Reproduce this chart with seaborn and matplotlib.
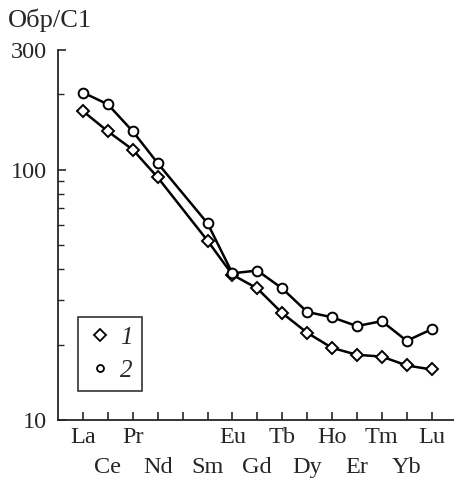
import numpy as np
import pandas as pd
import matplotlib
matplotlib.use("Agg")
import matplotlib.pyplot as plt
import seaborn as sns
from matplotlib.lines import Line2D
from matplotlib.ticker import FixedLocator, NullFormatter

# --- data ---
ree_axis = ['La', 'Ce', 'Pr', 'Nd', 'Pm', 'Sm', 'Eu', 'Gd', 'Tb', 'Dy', 'Ho', 'Er', 'Tm', 'Yb', 'Lu']
elements = ['La', 'Ce', 'Pr', 'Nd', 'Sm', 'Eu', 'Gd', 'Tb', 'Dy', 'Ho', 'Er', 'Tm', 'Yb', 'Lu']
sample1 = [171, 142, 120, 93, 52, 38, 33.5, 26.7, 22.3, 19.4, 18.2, 17.9, 16.5, 15.9]
sample2 = [203, 182, 142, 106, 61, 38.5, 39.5, 33.5, 27.0, 25.7, 23.7, 24.8, 20.7, 23.0]
legend_labels = ['1', '2']
top_row = ['La', 'Pr', 'Pm', 'Eu', 'Tb', 'Ho', 'Tm', 'Lu']
bottom_row = ['Ce', 'Nd', 'Sm', 'Gd', 'Dy', 'Er', 'Yb']

df = pd.DataFrame({
    'el': elements * 2,
    'val': sample1 + sample2,
    'grp': ['1'] * len(elements) + ['2'] * len(elements),
})
pos = {e: i for i, e in enumerate(ree_axis)}
df['pos'] = df['el'].map(pos)

sns.set_style("ticks")
plt.rcParams['font.family'] = ['Liberation Serif', 'DejaVu Serif']
plt.rcParams['font.size'] = 17.5

fig = plt.figure(figsize=(4.54, 4.86), dpi=100)
ax = fig.add_axes([0.128, 0.136, 0.872, 0.761])

sns.lineplot(data=df[df.grp == '1'], x='pos', y='val', ax=ax, color='black', lw=1.8,
             marker='D', markersize=6.5, markerfacecolor='white', markeredgecolor='black',
             markeredgewidth=1.4, legend=False)
sns.lineplot(data=df[df.grp == '2'], x='pos', y='val', ax=ax, color='black', lw=1.8,
             marker='o', markersize=7, markerfacecolor='white', markeredgecolor='black',
             markeredgewidth=1.4, legend=False)

ax.set_yscale('log')
ax.set_ylim(10, 300)
ax.set_xlim(-1, 14.9)
ax.yaxis.set_major_locator(FixedLocator([10, 100, 300]))
ax.set_yticklabels(['10', '100', '300'])
ax.yaxis.set_minor_locator(FixedLocator([20, 30, 40, 50, 60, 70, 80, 90, 200]))
ax.yaxis.set_minor_formatter(NullFormatter())

# two staggered rows of element labels
ax.set_xticks([pos[e] for e in top_row])
ax.set_xticklabels(['' if e == 'Pm' else e for e in top_row])
ax.set_xticks([pos[e] for e in bottom_row], minor=True)
ax.set_xticklabels(bottom_row, minor=True)

ax.tick_params(axis='both', which='both', direction='in', width=1.2)
ax.tick_params(axis='both', which='major', length=6)
ax.tick_params(axis='y', which='major', pad=8)
ax.tick_params(axis='y', which='minor', length=4, width=1.0)
ax.tick_params(axis='x', which='major', pad=5)
ax.tick_params(axis='x', which='minor', length=6, pad=27)
for s in ['top', 'right']:
    ax.spines[s].set_visible(False)
for s in ['left', 'bottom']:
    ax.spines[s].set_linewidth(1.3)
ax.set_xlabel('')
ax.set_ylabel('')

handles = [
    Line2D([], [], ls='none', marker='D', markersize=6, mfc='white', mec='black', mew=1.3),
    Line2D([], [], ls='none', marker='o', markersize=5, mfc='white', mec='black', mew=1.3),
]
leg = ax.legend(handles, legend_labels, loc='lower left', bbox_to_anchor=(0.05, 0.078),
                borderaxespad=0, frameon=True, fancybox=False, edgecolor='black',
                handlelength=1.0, handletextpad=0.3, borderpad=0.38, labelspacing=0.4,
                prop={'style': 'italic', 'size': 18})
leg.get_frame().set_linewidth(1.2)

fig.text(0.018, 0.958, 'Обр/C1', ha='left', va='center', fontsize=19)

fig.savefig('out.png', dpi=100)
